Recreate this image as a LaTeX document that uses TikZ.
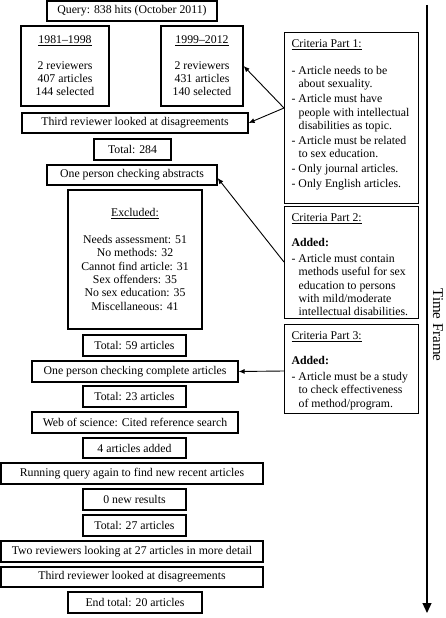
\documentclass[tikz,border=0pt]{standalone}
\usepackage{fontspec}
\setmainfont{Liberation Serif}
\usetikzlibrary{arrows.meta}
\newcommand{\critem}{\par\hangindent=7pt\hangafter=1 -\ }
\begin{document}
\begin{tikzpicture}[x=1pt,y=-1pt,
  every node/.style={font=\fontsize{11.8}{13.3}\selectfont},
  box/.style={draw, line width=1.2pt, inner sep=0pt, align=center},
  crit/.style={draw, line width=1.2pt, anchor=north west, inner xsep=7pt, inner ysep=7pt},
  arr/.style={line width=0.9pt, -{Latex[length=6pt,width=5pt]}},
  timearr/.style={line width=1.2pt, -{Triangle[length=10pt,width=9pt]}}]
\useasboundingbox (0,0) rectangle (446,618);

% main column
\node[box, minimum width=170, minimum height=20] (q) at (132,11) {Query: 838 hits (October 2011)};
\node[box, minimum width=88, minimum height=80] (a) at (65,66) {\underline{1981–1998}\\[12pt]2 reviewers\\407 articles\\144 selected};
\node[box, minimum width=82, minimum height=80] (b) at (202,66) {\underline{1999–2012}\\[12pt]2 reviewers\\431 articles\\140 selected};
\node[box, minimum width=226, minimum height=20] (t1) at (135,123) {Third reviewer looked at disagreements};
\node[box, minimum width=77, minimum height=21] (tot284) at (132.5,149.5) {Total: 284};
\node[box, minimum width=170, minimum height=20] (abs) at (132,175) {One person checking abstracts};
\node[box, minimum width=134, minimum height=139] (exc) at (135,259.5) {\underline{Excluded:}\\[13.5pt]Needs assessment: 51\\No methods: 32\\Cannot find article: 31\\Sex offenders: 35\\No sex education: 35\\Miscellaneous: 41};
\node[box, minimum width=103, minimum height=21] (tot59) at (134.5,345.5) {Total: 59 articles};
\node[box, minimum width=206, minimum height=21] (comp) at (135,371.5) {One person checking complete articles};
\node[box, minimum width=103, minimum height=21] (tot23) at (134.5,396.5) {Total: 23 articles};
\node[box, minimum width=206, minimum height=21] (web) at (135,422.5) {Web of science: Cited reference search};
\node[box, minimum width=103, minimum height=20] (add4) at (134.5,448) {4 articles added};
\node[box, minimum width=262, minimum height=21] (run) at (132,473.5) {Running query again to find new recent articles};
\node[box, minimum width=103, minimum height=21] (zero) at (134.5,499.5) {0 new results};
\node[box, minimum width=103, minimum height=21] (tot27) at (134.5,525.5) {Total: 27 articles};
\node[box, minimum width=262, minimum height=21] (two) at (132,551.5) {Two reviewers looking at 27 articles in more detail};
\node[box, minimum width=262, minimum height=20] (t2) at (132,577) {Third reviewer looked at disagreements};
\node[box, minimum width=134, minimum height=21] (endt) at (135,602.5) {End total: 20 articles};

% criteria boxes
\node[crit] (c1) at (284,32) {\begin{minipage}[t][157pt][t]{120pt}\raggedright\setlength{\parskip}{1.7pt}%
\underline{Criteria Part 1:}\par\vspace{12pt}%
\critem Article needs to be\newline about sexuality.%
\critem Article must have\newline people with intellectual\newline disabilities as topic.%
\critem Article must be related\newline to sex education.%
\critem Only journal articles.%
\critem Only English articles.\par
\end{minipage}};
\node[crit] (c2) at (284,206) {\begin{minipage}[t][98pt][t]{120pt}\raggedright\setlength{\parskip}{1.7pt}%
\underline{Criteria Part 2:}\par\vspace{10pt}%
\textbf{Added:}\par\vspace{1pt}%
\critem Article must contain\newline methods useful for sex\newline education to persons\newline with mild/moderate\newline intellectual disabilities.\par
\end{minipage}};
\node[crit] (c3) at (284,324) {\begin{minipage}[t][75pt][t]{120pt}\raggedright\setlength{\parskip}{1.7pt}%
\underline{Criteria Part 3:}\par\vspace{10pt}%
\textbf{Added:}\par\vspace{1pt}%
\critem Article must be a study\newline to check effectiveness\newline of method/program.\par
\end{minipage}};

% criteria arrows
\coordinate (o1) at (284,108);
\coordinate (o2) at (284,262);
\coordinate (o3) at (284,371);
\draw[arr] (o1) -- (b.east);
\draw[arr] (o1) -- (t1.east);
\draw[arr] (o2) -- ([yshift=-3pt]abs.east);
\draw[arr] (o3) -- (comp.east);

% time frame
\coordinate (ts) at (427,5);
\coordinate (te) at (427,613);
\draw[timearr] (ts) -- (te);
\node[rotate=-90, font=\fontsize{15}{18}\selectfont] (tf) at (438,325) {Time Frame};
\end{tikzpicture}
\end{document}
